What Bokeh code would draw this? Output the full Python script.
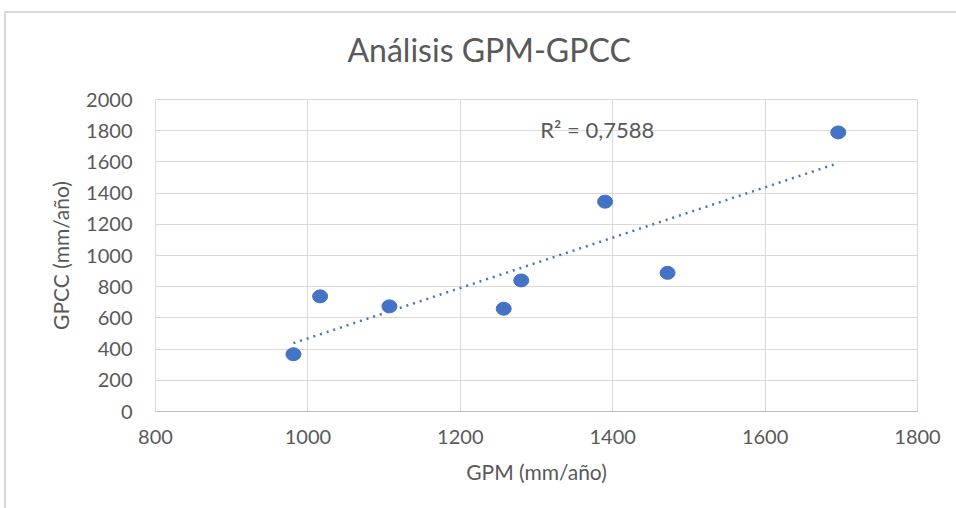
import numpy as np
from bokeh.plotting import figure
from bokeh.models import Label, SingleIntervalTicker, ColumnDataSource, Title
from bokeh.embed import file_html
from bokeh.resources import INLINE

# Data
gpm = [981, 1016, 1107, 1257, 1280, 1390, 1472, 1696]      # GPM (mm/año)
gpcc = [367, 738, 674, 659, 840, 1345, 889, 1789]          # GPCC (mm/año)
title_text = "Análisis GPM-GPCC"
x_title = "GPM (mm/año)"
y_title = "GPCC (mm/año)"
r2_text = "R² = 0,7588"

FONT = "Lato"
TXT = "#595959"
GRID = "#d9d9d9"
BLUE = "#4472C4"

W, H = 956, 508
ML, MR, MT, MB = 155, 39, 99, 97

p = figure(width=W, height=H, x_range=(800, 1800), y_range=(0, 2000),
           min_border_left=ML, min_border_right=MR, min_border_top=MT, min_border_bottom=MB,
           output_backend="svg", toolbar_location=None)
p.outline_line_color = GRID
p.outline_line_width = 1
p.border_fill_color = None
p.background_fill_color = "white"
p.styles = {
    "background": "linear-gradient(#d9d9d9, #d9d9d9) 4px 11px / 100% 2px no-repeat, "
                  "linear-gradient(#d9d9d9, #d9d9d9) 4px 11px / 2px 100% no-repeat, white",
}

# spacer between the frame and the chart title
p.add_layout(Title(text=" ", text_font_size="10px", standoff=17), "above")

p.title.text = title_text
p.title.align = "left"
p.title.offset = 192
p.title.standoff = 2
p.title.text_font = FONT
p.title.text_font_size = "32px"
p.title.text_font_style = "normal"
p.title.text_color = TXT

p.xaxis.ticker = SingleIntervalTicker(interval=200)
p.yaxis.ticker = SingleIntervalTicker(interval=200)
p.xgrid.grid_line_color = GRID
p.ygrid.grid_line_color = GRID
p.xgrid.grid_line_width = 1
p.ygrid.grid_line_width = 1

for ax in (p.xaxis[0], p.yaxis[0]):
    ax.major_tick_line_color = None
    ax.minor_tick_line_color = None
    ax.major_tick_out = 0
    ax.major_tick_in = 0
    ax.major_label_text_font = FONT
    ax.major_label_text_font_size = "20px"
    ax.major_label_text_color = TXT
    ax.axis_label_text_font = FONT
    ax.axis_label_text_font_size = "21px"
    ax.axis_label_text_color = TXT
    ax.axis_label_text_font_style = "normal"

p.xaxis.axis_line_color = "#bfbfbf"
p.yaxis.axis_line_color = None
p.xaxis.major_label_standoff = 14
p.yaxis.major_label_standoff = 19
p.xaxis.axis_label = x_title
p.yaxis.axis_label = y_title
p.xaxis.axis_label_standoff = 12
p.yaxis.axis_label_standoff = 10

src = ColumnDataSource(dict(x=gpm, y=gpcc))
p.ellipse(x="x", y="y", width=15, height=13, width_units="screen", height_units="screen",
          source=src, fill_color=BLUE, line_color=BLUE)

# linear trendline (least squares of the data)
slope, intercept = np.polyfit(gpm, gpcc, 1)
tx = [min(gpm), max(gpm)]
ty = [slope * v + intercept for v in tx]
p.line(tx, ty, line_color=BLUE, line_width=2.5, line_dash="2 5")

p.add_layout(Label(x=1305, y=1806, text=r2_text, text_font=FONT, text_font_size="22px",
                   text_color=TXT, text_baseline="alphabetic", text_align="left"))

open("out.html", "w").write(file_html(p, INLINE))
